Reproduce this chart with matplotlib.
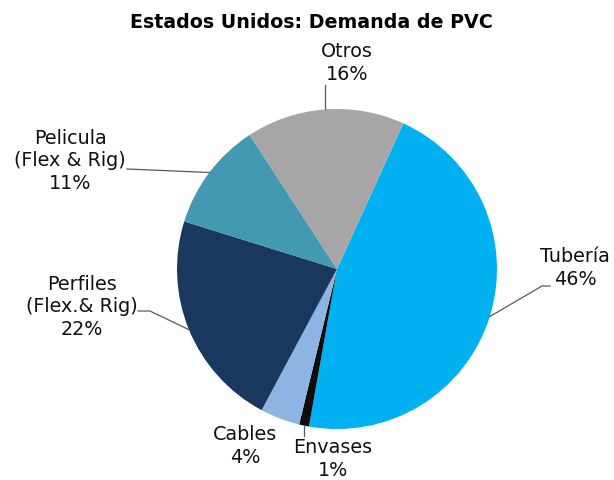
import numpy as np
import matplotlib
matplotlib.use("Agg")
import matplotlib.pyplot as plt

categories = ["Tubería", "Envases", "Cables", "Perfiles\n(Flex.& Rig)", "Pelicula\n(Flex & Rig)", "Otros"]
values = [46, 1, 4, 22, 11, 16]
pct_labels = ["46%", "1%", "4%", "22%", "11%", "16%"]
colors = ["#00B0F0", "#0D0D0D", "#8DB4E2", "#1A375E", "#4399B1", "#A6A6A6"]

W, H = 614, 481
fig = plt.figure(figsize=(W / 100, H / 100), dpi=100)
ax = fig.add_axes([0, 0, 1, 1])

cx, cy, R = 337, H - 270, 160
wedges, _ = ax.pie(values, colors=colors, startangle=65.5, counterclock=False,
                   center=(cx, cy), radius=R, wedgeprops=dict(linewidth=0))
ax.set_xlim(0, W)
ax.set_ylim(0, H)
ax.set_aspect("equal")
ax.axis("off")

fs = 13.8
txtcol = "#111111"
linecol = "#595959"

# label text positions (pixel coords from top) and optional elbow
label_pos = {
    0: dict(xy=(575, 268), elbow=[(542, 287), (550, 287)]),
    1: dict(xy=(333, 459), elbow=[(None, 437)]),
    2: dict(xy=(245, 446), elbow=None),
    3: dict(xy=(82, 307), elbow=[(150, 312), (138, 312)]),
    4: dict(xy=(70, 161), elbow=[(127, 170)]),
    5: dict(xy=(347, 63), elbow=[(None, 86)]),
}

for i, w in enumerate(wedges):
    mid = np.deg2rad((w.theta1 + w.theta2) / 2)
    px = cx + R * np.cos(mid)
    py = cy + R * np.sin(mid)
    info = label_pos[i]
    tx, ty = info["xy"]
    ax.text(tx, H - ty, categories[i] + "\n" + pct_labels[i], ha="center", va="center",
            fontsize=fs, color=txtcol, linespacing=1.25)
    if info["elbow"]:
        xs, ys = [px], [py]
        for ex, ey in info["elbow"]:
            xs.append(px if ex is None else ex)
            ys.append(H - ey)
        ax.plot(xs, ys, color=linecol, lw=0.9)

ax.text(W / 2 + 4, H - 22, "Estados Unidos: Demanda de PVC", ha="center", va="center",
        fontsize=13.7, fontweight="bold", color="#000000")

fig.savefig("out.png", dpi=100)
